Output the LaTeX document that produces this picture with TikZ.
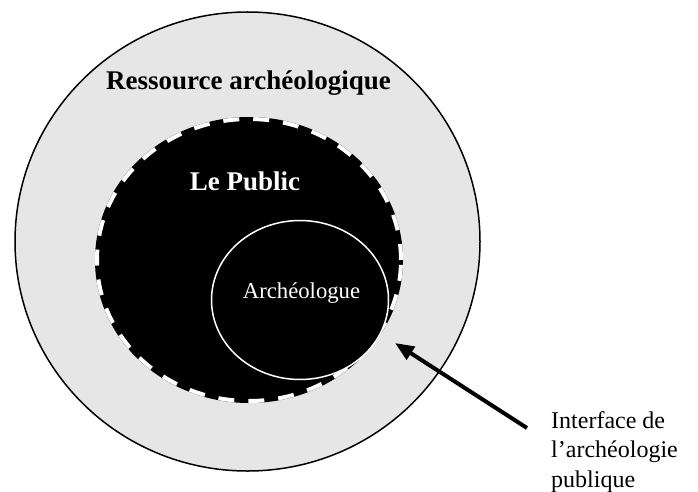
\documentclass[tikz,border=0pt]{standalone}
\usepackage{fontspec}
\setmainfont{Liberation Serif}
\usetikzlibrary{arrows.meta}
\definecolor{ringgray}{RGB}{230,230,230}
\tikzset{
  ringshape/.style={fill=ringgray, draw=black, line width=1.5pt},
  publicfill/.style={fill=black},
  publicdash/.style={draw=white, line width=4pt, dash pattern=on 16pt off 14pt},
  archshape/.style={fill=black, draw=white, line width=1.5pt},
  boldlabel/.style={font=\fontsize{27}{32}\selectfont\bfseries, inner sep=0pt},
  pointer/.style={line width=4pt, -{Triangle[length=19pt,width=15pt]}}
}
\begin{document}
\begin{tikzpicture}[x=1pt,y=-1pt]
\useasboundingbox (0,0) rectangle (698,492);
% outer ring
\draw[ringshape] (247.5,241.5) ellipse [x radius=232.5pt, y radius=229.5pt];
% public
\fill[publicfill] (249,260) ellipse [x radius=154pt, y radius=143pt];
\draw[publicdash] (249,260) ellipse [x radius=152pt, y radius=141pt];
% archeologue
\draw[archshape] (300,300) ellipse [x radius=88.5pt, y radius=79.5pt];
% texts
\node[boldlabel, anchor=base] (res) at (248.5,90) {Ressource archéologique};
\node[boldlabel, anchor=base, text=white] (pub) at (245,190) {Le Public};
\node[font=\fontsize{22.7}{27}\selectfont, text=white, inner sep=0pt, anchor=base] (arch) at (301.5,298) {Archéologue};
\node[font=\fontsize{24}{29.5}\selectfont, align=left, inner sep=0pt, anchor=north west] (iface) at (551,411) {Interface de\\l’archéologie\\publique};
% arrow
\coordinate (tail) at (527,428);
\coordinate (tip) at (395,343);
\draw[pointer] (tail) -- (tip);
\end{tikzpicture}
\end{document}
